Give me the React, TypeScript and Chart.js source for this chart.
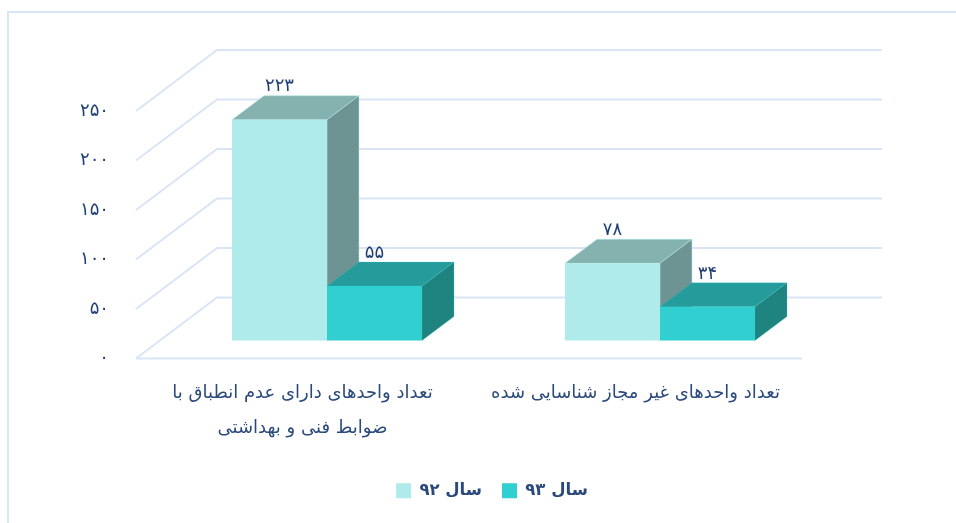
import React, { useEffect, useRef } from "react";
import { Chart, registerables } from "chart.js";

Chart.register(...registerables);

const categories = [
  ["تعداد واحدهای دارای عدم انطباق با", "ضوابط فنی و بهداشتی"],
  "تعداد واحدهای غیر مجاز شناسایی شده",
];
const series92 = [223, 78];
const series93 = [55, 34];
const seriesLabels = ["سال ۹۲", "سال ۹۳"];
const tickValues = [0, 50, 100, 150, 200, 250];

const FONT = "'DejaVu Sans', sans-serif";
const TEXT = "#2b4a7c";
const GRID = "#d9e5f6";
const toFa = (v: number | string) => String(v).replace(/\d/g, (d) => "۰۱۲۳۴۵۶۷۸۹"[+d]);

// Offsets of the 3D view, in pixels
const BAR_SHIFT = { x: 24.5, y: -18 };
const DEPTH = { x: 32, y: -24 };
const WALL = { x: 81, y: -61 };
const LEGEND_SHIFT = 61;

const faces = [
  { top: "#85b2af", side: "#6d9492", edge: "rgba(174,235,234,0.55)" },
  { top: "#269b9b", side: "#1f8380", edge: "rgba(49,207,207,0.25)" },
];

const poly = (ctx: CanvasRenderingContext2D, pts: number[][], fill: string, edge: string) => {
  ctx.beginPath();
  pts.forEach(([x, y], i) => (i ? ctx.lineTo(x, y) : ctx.moveTo(x, y)));
  ctx.closePath();
  ctx.fillStyle = fill;
  ctx.fill();
  ctx.strokeStyle = edge;
  ctx.lineWidth = 1;
  ctx.stroke();
};

const scene3d = {
  id: "scene3d",
  afterLayout(chart: any) {
    chart.legend.left += LEGEND_SHIFT;
    chart.legend.right += LEGEND_SHIFT;
  },
  beforeDatasetsDraw(chart: any) {
    const { ctx, chartArea: a } = chart;
    const y = chart.scales.y;
    ctx.save();
    ctx.strokeStyle = GRID;
    ctx.lineWidth = 2;
    y.ticks.forEach((t: any) => {
      const p = y.getPixelForValue(t.value);
      ctx.beginPath();
      ctx.moveTo(a.left, p);
      ctx.lineTo(a.left + WALL.x, p + WALL.y);
      ctx.lineTo(a.right + WALL.x - 1, p + WALL.y);
      ctx.stroke();
    });
    ctx.beginPath();
    ctx.moveTo(a.left, a.bottom);
    ctx.lineTo(a.right, a.bottom);
    ctx.stroke();
    ctx.restore();

    // Left series first, so that the right series' top covers its side face
    ctx.save();
    ctx.translate(BAR_SHIFT.x, BAR_SHIFT.y);
    chart.data.datasets.forEach((_: any, i: number) => {
      const meta = chart.getDatasetMeta(i);
      const f = faces[i];
      meta.data.forEach((bar: any) => {
        const { x, y: top, base, width } = bar.getProps(["x", "y", "base", "width"], true);
        const l = x - width / 2;
        const r = x + width / 2;
        poly(ctx, [[l, top], [l + DEPTH.x, top + DEPTH.y], [r + DEPTH.x, top + DEPTH.y], [r, top]], f.top, f.edge);
        poly(ctx, [[r, top], [r + DEPTH.x, top + DEPTH.y], [r + DEPTH.x, base + DEPTH.y], [r, base]], f.side, f.edge);
      });
      meta.controller.draw();
    });
    ctx.restore();
  },
  beforeDatasetDraw() {
    return false;
  },
  afterDatasetsDraw(chart: any) {
    const { ctx } = chart;
    ctx.save();
    ctx.font = `18px ${FONT}`;
    ctx.fillStyle = "#1f3f77";
    ctx.textAlign = "center";
    ctx.textBaseline = "middle";
    chart.data.datasets.forEach((ds: any, i: number) => {
      chart.getDatasetMeta(i).data.forEach((bar: any, j: number) => {
        ctx.fillText(toFa(ds.data[j]), bar.x + BAR_SHIFT.x, bar.y + BAR_SHIFT.y - 33);
      });
    });
    ctx.restore();
  },
};

const frame = {
  id: "frame",
  beforeDraw(chart: any) {
    const { ctx } = chart;
    ctx.save();
    ctx.strokeStyle = GRID;
    ctx.lineWidth = 2;
    ctx.beginPath();
    ctx.moveTo(8, chart.height);
    ctx.lineTo(8, 12);
    ctx.lineTo(chart.width, 12);
    ctx.stroke();
    ctx.restore();
  },
};

export default function App() {
  const ref = useRef<HTMLCanvasElement>(null);
  useEffect(() => {
    const chart = new Chart(ref.current!, {
      type: "bar",
      data: {
        labels: categories as any,
        datasets: [
          { label: seriesLabels[0], data: series92, backgroundColor: "#aeebea", categoryPercentage: 0.5706, barPercentage: 1 },
          { label: seriesLabels[1], data: series93, backgroundColor: "#31cfcf", categoryPercentage: 0.5706, barPercentage: 1 },
        ],
      },
      options: {
        animation: false,
        responsive: false,
        maintainAspectRatio: false,
        layout: { padding: { left: 60, right: 154, top: 111, bottom: 14 } },
        scales: {
          x: {
            grid: { display: false },
            border: { display: false },
            afterFit: (s: any) => { s.height = 104; },
            ticks: {
              maxRotation: 0,
              minRotation: 0,
              autoSkip: false,
              padding: 9,
              color: TEXT,
              font: { family: FONT, size: 18, lineHeight: 1.95 },
            },
          },
          y: {
            min: 0,
            max: 250,
            grid: { display: false, drawTicks: false },
            border: { display: false },
            afterFit: (s: any) => { s.width = 76; },
            afterBuildTicks: (s: any) => { s.ticks = tickValues.map((value) => ({ value })); },
            ticks: {
              padding: 27,
              color: "#1f3f77",
              font: { family: FONT, size: 18 },
              callback: (v: any) => toFa(v),
            },
          },
        },
        plugins: {
          tooltip: { enabled: false },
          legend: {
            position: "bottom",
            labels: {
              color: TEXT,
              boxWidth: 15,
              boxHeight: 15,
              padding: 20,
              font: { family: FONT, size: 16.5, weight: "bold" },
            },
          },
        },
      },
      plugins: [frame, scene3d],
    } as any);
    return () => chart.destroy();
  }, []);
  return (
    <div style={{ position: "fixed", left: 0, top: 0, width: 956, height: 523, background: "#fff" }}>
      <canvas ref={ref} width={956} height={523} style={{ display: "block" }} />
    </div>
  );
}
